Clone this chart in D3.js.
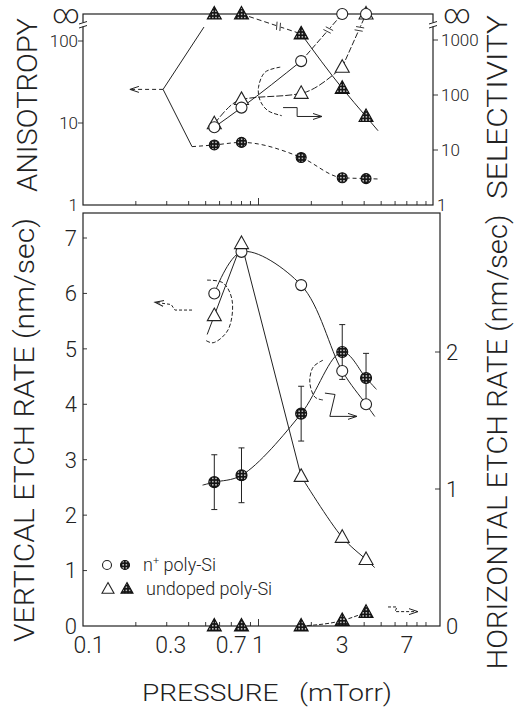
<!DOCTYPE html>
<html><head><meta charset="utf-8">
<script src="https://cdn.jsdelivr.net/npm/d3@7"></script>
<style>
body{margin:0;background:#fff}
svg{display:block}
text{font-family:Roboto,"Liberation Sans",Arial,sans-serif;font-weight:300;fill:#222}
</style>
</head><body>
<svg id="c" width="514" height="710"></svg>
<script>
// ---------------- data ----------------
const pressure       = [0.56, 0.8, 1.75, 3.0, 4.1];          // mTorr
const anisotropyN    = [5.4, 5.8, 3.8, 2.15, 2.1];           // filled circles (left, top)
const anisotropyU    = [Infinity, Infinity, 122, 26.5, 12];  // filled triangles (left, top)
const selectivityN   = [26, 59, 413, Infinity, Infinity];    // open circles (right, top)
const selectivityU   = [30, 83, 107, 320, Infinity];         // open triangles (right, top)
const vertRateN      = [6.0, 6.75, 6.15, 4.6, 4.0];          // open circles (left, bottom)
const vertRateU      = [5.6, 6.9, 2.7, 1.6, 1.2];            // open triangles (left, bottom)
const horizRateN     = [1.05, 1.1, 1.55, 2.0, 1.81];         // filled circles (right, bottom)
const horizRateNErr  = [0.2, 0.2, 0.2, 0.2, 0.18];
const horizRateU     = [0, 0, 0, 0.04, 0.1];                 // filled triangles (right, bottom)

const xTickValues    = [0.1, 0.3, 0.7, 1, 3, 7];
const xTickLabels    = ["0.1", "0.3", "0.7", "1", "3", "7"];
const xMinorTicks    = [0.2,0.3,0.4,0.5,0.6,0.7,0.8,0.9,2,3,4,5,6,7,8,9];
const anisoTicks     = [1, 10, 100];
const selTicks       = [1, 10, 100, 1000];
const vertTicks      = [0, 1, 2, 3, 4, 5, 6, 7];
const horizTicks     = [0, 1, 2];
const legendLabels   = ["poly-Si", "undoped poly-Si"];

// ---------------- layout ----------------
const ink = "#222";
const svg = d3.select("#c");
const P1 = {t: 14, b: 205, l: 83, r: 433};
const P2 = {t: 213, b: 626, l: 83, r: 440};

const x  = d3.scaleLog().domain([0.1, 10]).range([83, 434]);
const yA = d3.scaleLog().domain([1, 100]).range([205, 41]);
const yS = d3.scaleLog().domain([1, 1000]).range([205, 40]);
const yV = d3.scaleLinear().domain([0, 7]).range([626, 238]);
const yH = d3.scaleLinear().domain([0, 2]).range([626, 352]);
const infY = P1.t;
const yOf = (s, v) => isFinite(v) ? s(v) : infY;

// defs
const defs = svg.append("defs");
const pat = defs.append("pattern").attr("id", "stip").attr("patternUnits", "userSpaceOnUse")
  .attr("width", 3.2).attr("height", 3.2);
pat.append("rect").attr("width", 3.2).attr("height", 3.2).attr("fill", "#151515");
pat.append("circle").attr("cx", 1.6).attr("cy", 1.6).attr("r", 0.75).attr("fill", "#fff");
defs.append("marker").attr("id", "arr").attr("markerUnits", "userSpaceOnUse")
  .attr("markerWidth", 12).attr("markerHeight", 10).attr("refX", 9).attr("refY", 4)
  .attr("orient", "auto")
  .append("path").attr("d", "M0,1 L9,4 L0,7").attr("fill", "none").attr("stroke", ink).attr("stroke-width", 1);

const g = svg.append("g");

// ---------------- frames ----------------
function frame(P) {
  g.append("rect").attr("x", P.l).attr("y", P.t).attr("width", P.r - P.l).attr("height", P.b - P.t)
    .attr("fill", "none").attr("stroke", ink).attr("stroke-width", 1.2);
}
frame(P1); frame(P2);

// axis breaks (between 100/1000 and infinity)
[P1.l, P1.r].forEach(ax => {
  g.append("rect").attr("x", ax - 2).attr("y", 22.5).attr("width", 4).attr("height", 4).attr("fill", "#fff");
  g.append("path").attr("d", `M${ax-4},${24} L${ax+4},${21.5} M${ax-4},${28} L${ax+4},${25.5}`)
    .attr("stroke", ink).attr("stroke-width", 1).attr("fill", "none");
});

// x minor ticks (inward, both panels)
[P1, P2].forEach(P => {
  xMinorTicks.forEach(v => {
    g.append("line").attr("x1", x(v)).attr("x2", x(v)).attr("y1", P.b).attr("y2", P.b - 4)
      .attr("stroke", ink).attr("stroke-width", 0.9);
  });
  g.append("line").attr("x1", x(1)).attr("x2", x(1)).attr("y1", P.b).attr("y2", P.b - 7)
    .attr("stroke", ink).attr("stroke-width", 0.9);
});

// x tick labels
g.selectAll(".xl").data(xTickValues).enter().append("text")
  .attr("x", d => x(d) + (d === 0.1 ? 6 : d === 0.3 ? 4 : 0)).attr("y", 653)
  .attr("text-anchor", "middle").attr("font-size", 23)
  .text((d, i) => xTickLabels[i]);

// top-left ticks / labels
anisoTicks.forEach(v => {
  if (v > 1) g.append("line").attr("x1", P1.l - 5).attr("x2", P1.l).attr("y1", yA(v)).attr("y2", yA(v))
    .attr("stroke", ink).attr("stroke-width", 0.9);
  g.append("text").attr("x", 78).attr("y", yA(v)).attr("dy", "0.36em").attr("text-anchor", "end")
    .attr("font-size", 17).text(v);
});
selTicks.forEach(v => {
  if (v > 1) g.append("line").attr("x1", P1.r).attr("x2", P1.r + 5).attr("y1", yS(v)).attr("y2", yS(v))
    .attr("stroke", ink).attr("stroke-width", 0.9);
  g.append("text").attr("x", v === 1 ? 437 : 441).attr("y", yS(v)).attr("dy", "0.36em")
    .attr("font-size", 17).text(v);
});
// infinity labels
g.append("text").attr("x", 66).attr("y", infY).attr("dy", "0.33em").attr("text-anchor", "middle")
  .attr("font-size", 26).text("\u221E");
g.append("text").attr("x", 457).attr("y", infY).attr("dy", "0.33em").attr("text-anchor", "middle")
  .attr("font-size", 26).text("\u221E");

// bottom ticks / labels
vertTicks.forEach(v => {
  if (v > 0) g.append("line").attr("x1", P2.l).attr("x2", P2.l + 4).attr("y1", yV(v)).attr("y2", yV(v))
    .attr("stroke", ink).attr("stroke-width", 0.9);
  g.append("text").attr("x", 77).attr("y", yV(v)).attr("dy", "0.36em").attr("text-anchor", "end")
    .attr("font-size", 22).text(v);
});
horizTicks.forEach(v => {
  if (v > 0) g.append("line").attr("x1", P2.r - 5).attr("x2", P2.r).attr("y1", yH(v)).attr("y2", yH(v))
    .attr("stroke", ink).attr("stroke-width", 0.9);
  g.append("text").attr("x", 446).attr("y", yH(v)).attr("dy", "0.36em")
    .attr("font-size", 22).text(v);
});

// axis titles
function vtitle(txt, cx, cy, len) {
  g.append("text").attr("transform", `translate(${cx},${cy}) rotate(-90)`)
    .attr("text-anchor", "middle").attr("dy", "0.36em").attr("font-size", 27)
    .attr("textLength", len).attr("lengthAdjust", "spacingAndGlyphs").text(txt);
}
vtitle("ANISOTROPY", 27, 105, 174);
vtitle("VERTICAL ETCH RATE (nm/sec)", 24, 430, 424);
vtitle("SELECTIVITY", 497, 107, 184);
vtitle("HORIZONTAL ETCH RATE (nm/sec)", 497, 442, 455);
g.append("text").attr("x", 267).attr("y", 701).attr("text-anchor", "middle").attr("font-size", 24)
  .attr("textLength", 250).attr("lengthAdjust", "spacingAndGlyphs").attr("xml:space", "preserve")
  .text("PRESSURE   (mTorr)");

// ---------------- helpers ----------------
function extrap(xs, ys, target, logY, atStart) {
  const n = xs.length;
  const [i0, i1] = atStart ? [1, 0] : [n - 2, n - 1];
  const f = logY ? Math.log10 : (v => v);
  const fi = logY ? (v => Math.pow(10, v)) : (v => v);
  const slope = (f(ys[i1]) - f(ys[i0])) / (Math.log10(xs[i1]) - Math.log10(xs[i0]));
  return fi(f(ys[i1]) + slope * (Math.log10(target) - Math.log10(xs[i1])));
}
function path(pts, curve, opts = {}) {
  const line = d3.line().curve(curve || d3.curveLinear);
  const p = g.append("path").attr("d", line(pts)).attr("fill", "none").attr("stroke", ink)
    .attr("stroke-width", opts.w || 1);
  if (opts.dash) p.attr("stroke-dasharray", opts.dash);
  if (opts.arrow) p.attr("marker-end", "url(#arr)");
  return p;
}
function breakMark(a, b, t) {
  const px = a[0] + (b[0] - a[0]) * t, py = a[1] + (b[1] - a[1]) * t;
  const dx = b[0] - a[0], dy = b[1] - a[1], L = Math.hypot(dx, dy);
  const ux = dx / L, uy = dy / L, nx = -uy, ny = ux;
  g.append("line").attr("x1", px - ux * 2.5).attr("y1", py - uy * 2.5).attr("x2", px + ux * 2.5).attr("y2", py + uy * 2.5)
    .attr("stroke", "#fff").attr("stroke-width", 3);
  [-1.8, 1.8].forEach(o => {
    const cx = px + ux * o, cy = py + uy * o;
    g.append("line").attr("x1", cx - nx * 4 - ux).attr("y1", cy - ny * 4 - uy)
      .attr("x2", cx + nx * 4 + ux).attr("y2", cy + ny * 4 + uy)
      .attr("stroke", ink).attr("stroke-width", 0.9);
  });
}
function circle(cx, cy, r, filled) {
  g.append("circle").attr("cx", cx).attr("cy", cy).attr("r", r)
    .attr("fill", filled ? "url(#stip)" : "#fff").attr("stroke", filled ? "#111" : ink).attr("stroke-width", 1.1);
}
function tri(cx, cy, s, filled) {
  const h = s * 0.9;
  g.append("path").attr("d", `M${cx},${cy - h * 0.6} L${cx + s / 2},${cy + h * 0.4} L${cx - s / 2},${cy + h * 0.4} Z`)
    .attr("fill", filled ? "url(#stip)" : "#fff").attr("stroke", filled ? "#111" : ink).attr("stroke-width", 1.1);
}
const ptsOf = (xs, ys, s) => xs.map((p, i) => [x(p), yOf(s, ys[i])]);

// ---------------- top panel lines ----------------
path([[x(0.489), yA(148)], [x(0.286), yA(25.7)], [x(0.418), yA(5.15)]], null, {w: 1});
path([[x(0.286), yA(25.7)], [x(0.185), yA(25.7)]], null, {dash: "4,3", arrow: true});
{
  const tailP = 4.9;
  const pts = [[x(0.418), yA(5.15)]].concat(ptsOf(pressure, anisotropyN, yA))
    .concat([[x(tailP), yA(extrap(pressure, anisotropyN, tailP, true, false))]]);
  path(pts, d3.curveMonotoneX, {dash: "4,3"});
}
{
  const fin = pressure.slice(2), finV = anisotropyU.slice(2), tailP = 4.8;
  const pts = ptsOf(fin, finV, yA).concat([[x(tailP), yA(extrap(fin, finV, tailP, true, false))]]);
  path(pts, d3.curveMonotoneX, {});
  const a = [x(pressure[1]), infY], b = [x(pressure[2]), yA(anisotropyU[2])];
  path([a, b], null, {dash: "5,3"});
  breakMark(a, b, 0.62);
}
{
  const pts = ptsOf(pressure.slice(0, 3), selectivityN.slice(0, 3), yS);
  path(pts, d3.curveMonotoneX, {});
  const a = pts[2], b = [x(pressure[3]), infY];
  path([a, b], null, {dash: "6,2"});
  breakMark(a, b, 0.66);
}
{
  const pts = ptsOf(pressure.slice(0, 4), selectivityU.slice(0, 4), yS);
  path(pts, d3.curveMonotoneX, {dash: "7,2"});
  const a = pts[3], b = [x(pressure[4]), infY];
  path([a, b], null, {dash: "6,2"});
  breakMark(a, b, 0.72);
}
path([[1.33, 321], [1.09, 260], [1.0, 138], [1.02, 80], [1.13, 52], [1.36, 42]].map(d => [x(d[0]), yS(d[1])]),
  d3.curveCatmullRom, {dash: "4,2"});
path([[1.38, 59], [1.66, 59], [1.66, 40.7], [2.30, 40.7]].map(d => [x(d[0]), yS(d[1])]), null, {arrow: true});

// ---------------- bottom panel lines ----------------
{
  const tailP = 4.6;
  const pts = ptsOf(pressure, vertRateN, yV).concat([[x(tailP), yV(extrap(pressure, vertRateN, tailP, false, false))]]);
  path(pts, d3.curveCatmullRom.alpha(0.5), {});
}
{
  const headP = 0.51, tailP = 4.6;
  const all = [[x(headP), yV(extrap(pressure, vertRateU, headP, false, true))]]
    .concat(ptsOf(pressure, vertRateU, yV))
    .concat([[x(tailP), yV(extrap(pressure, vertRateU, tailP, false, false))]]);
  path(all.slice(0, 4), d3.curveLinear, {});          // head -> 0.56 -> 0.8 -> 1.75 (near straight)
  path(all.slice(3), d3.curveCatmullRom.alpha(0.5), {}); // 1.75 -> 3 -> 4.1 -> tail
}
{
  const headP = 0.48, tailP = 4.7;
  const pts = [[x(headP), yH(extrap(pressure, horizRateN, headP, false, true))]]
    .concat(ptsOf(pressure, horizRateN, yH))
    .concat([[x(tailP), yH(extrap(pressure, horizRateN, tailP, false, false))]]);
  path(pts, d3.curveCatmullRom.alpha(0.5), {});
}
path(ptsOf(pressure.slice(2), horizRateU.slice(2), yH), d3.curveMonotoneX, {dash: "4,2"});

// error bars
pressure.forEach((p, i) => {
  const cx = x(p), y1 = yH(horizRateN[i] + horizRateNErr[i]), y2 = yH(horizRateN[i] - horizRateNErr[i]);
  g.append("path").attr("d", `M${cx},${y1} L${cx},${y2} M${cx - 3},${y1} L${cx + 3},${y1} M${cx - 3},${y2} L${cx + 3},${y2}`)
    .attr("stroke", ink).attr("stroke-width", 1).attr("fill", "none");
});

// bottom annotations
path([[0.418, 5.70], [0.334, 5.70], [0.318, 5.80], [0.257, 5.84]].map(d => [x(d[0]), yV(d[1])]), null, {dash: "3,2", arrow: true});
path([[0.509, 6.24], [0.628, 6.19], [0.707, 5.88], [0.670, 5.34], [0.551, 5.11], [0.496, 5.16]].map(d => [x(d[0]), yV(d[1])]),
  d3.curveCatmullRom, {dash: "4,2"});
path([[2.33, 1.94], [2.05, 1.89], [1.96, 1.78], [2.10, 1.67], [2.33, 1.65]].map(d => [x(d[0]), yH(d[1])]),
  d3.curveCatmullRom, {dash: "4,2"});
path([[2.39, 1.70], [2.73, 1.69], [2.55, 1.53], [3.64, 1.53]].map(d => [x(d[0]), yH(d[1])]), null, {arrow: true});
path([[5.47, 0.139], [6.15, 0.139], [6.0, 0.105], [8.1, 0.105]].map(d => [x(d[0]), yH(d[1])]), null, {dash: "3,2", arrow: true});

// ---------------- markers ----------------
pressure.forEach((p, i) => {
  tri(x(p), yOf(yS, selectivityU[i]), 14, false);
  circle(x(p), yOf(yS, selectivityN[i]), 5.5, false);
  circle(x(p), yOf(yA, anisotropyN[i]), 5, true);
  tri(x(p), yOf(yA, anisotropyU[i]), 14, true);
  circle(x(p), yV(vertRateN[i]), 5.5, false);
  tri(x(p), yV(vertRateU[i]), 14, false);
  circle(x(p), yH(horizRateN[i]), 5.5, true);
  tri(x(p), yH(horizRateU[i]), 14, true);
});

// ---------------- legend ----------------
circle(107, 565, 4.5, false);
circle(125, 565, 4.5, true);
tri(108, 589, 12, false);
tri(127, 589, 12, true);
const t1 = g.append("text").attr("x", 143).attr("y", 571).attr("font-size", 18);
t1.append("tspan").text("n");
t1.append("tspan").attr("dy", -7).attr("font-size", 11).text("+");
t1.append("tspan").attr("dy", 7).text(" " + legendLabels[0]);
g.append("text").attr("x", 146).attr("y", 595).attr("font-size", 18).text(legendLabels[1]);
</script>
</body></html>
